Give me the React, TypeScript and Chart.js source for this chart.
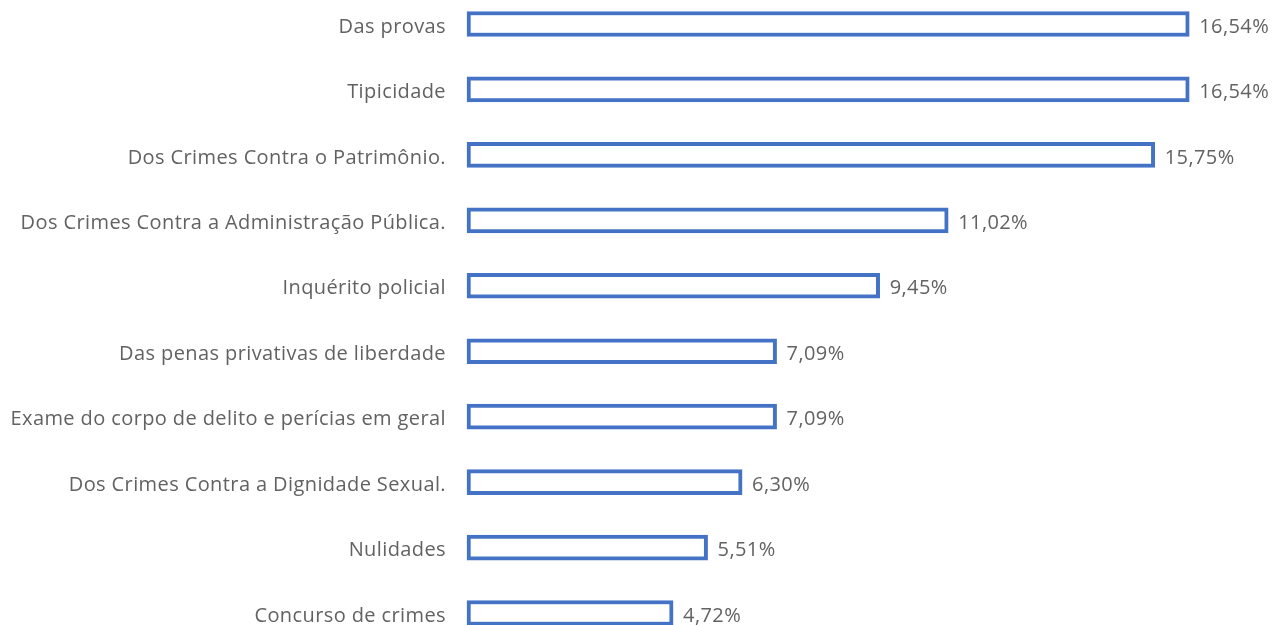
import React, { useEffect, useRef } from "react";
import { Chart, registerables } from "chart.js";

Chart.register(...registerables);

const categories: string[] = [
  "Das provas",
  "Tipicidade",
  "Dos Crimes Contra o Patrimônio.",
  "Dos Crimes Contra a Administração Pública.",
  "Inquérito policial",
  "Das penas privativas de liberdade",
  "Exame do corpo de delito e perícias em geral",
  "Dos Crimes Contra a Dignidade Sexual.",
  "Nulidades",
  "Concurso de crimes",
];

const values: number[] = [16.54, 16.54, 15.75, 11.02, 9.45, 7.09, 7.09, 6.3, 5.51, 4.72];

const formatPct = (v: number) => v.toFixed(2).replace(".", ",") + "%";

const TEXT_COLOR = "#626262";
const FONT_FAMILY = "'Open Sans', 'DejaVu Sans', sans-serif";
const FONT_SIZE = 20;

const spacingPlugin = {
  id: "letterSpacing",
  beforeDraw(chart: any) {
    (chart.ctx as any).letterSpacing = "0.4px";
  },
};

const valueLabelPlugin = {
  id: "valueLabels",
  afterDatasetsDraw(chart: any) {
    const ctx = chart.ctx;
    const meta = chart.getDatasetMeta(0);
    ctx.save();
    ctx.font = `${FONT_SIZE}px ${FONT_FAMILY}`;
    ctx.fillStyle = TEXT_COLOR;
    ctx.textAlign = "left";
    ctx.textBaseline = "middle";
    meta.data.forEach((bar: any, i: number) => {
      ctx.fillText(formatPct(values[i]), bar.x + 10, bar.y + 3);
    });
    ctx.restore();
  },
};

export default function App() {
  const canvasRef = useRef<HTMLCanvasElement | null>(null);

  useEffect(() => {
    if (!canvasRef.current) return;
    const chart = new Chart(canvasRef.current, {
      type: "bar",
      data: {
        labels: categories,
        datasets: [
          {
            data: values,
            backgroundColor: "#ffffff",
            borderColor: "#4472C4",
            borderWidth: 4,
            borderSkipped: false,
            barThickness: 25,
            clip: false as any,
          },
        ],
      },
      options: {
        indexAxis: "y",
        responsive: false,
        animation: false,
        maintainAspectRatio: false,
        layout: { padding: { left: 0, right: 24, top: 24, bottom: 12 } },
        plugins: {
          legend: { display: false },
          tooltip: { enabled: false },
        },
        scales: {
          x: {
            display: false,
            min: 0,
            max: 18,
          },
          y: {
            offset: false,
            grid: { display: false, drawTicks: false },
            border: { display: false },
            ticks: {
              color: TEXT_COLOR,
              padding: 21,
              labelOffset: 3,
              font: { family: FONT_FAMILY, size: FONT_SIZE },
            },
            afterFit: (scale: any) => {
              scale.width = 467;
              scale.paddingTop = 0;
              scale.paddingBottom = 0;
            },
          },
        },
      },
      plugins: [spacingPlugin, valueLabelPlugin],
    });
    return () => chart.destroy();
  }, []);

  return (
    <div style={{ position: "fixed", left: 0, top: 0, width: 1277, height: 625, background: "#fff" }}>
      <canvas ref={canvasRef} width={1277} height={625} style={{ display: "block" }} />
    </div>
  );
}
